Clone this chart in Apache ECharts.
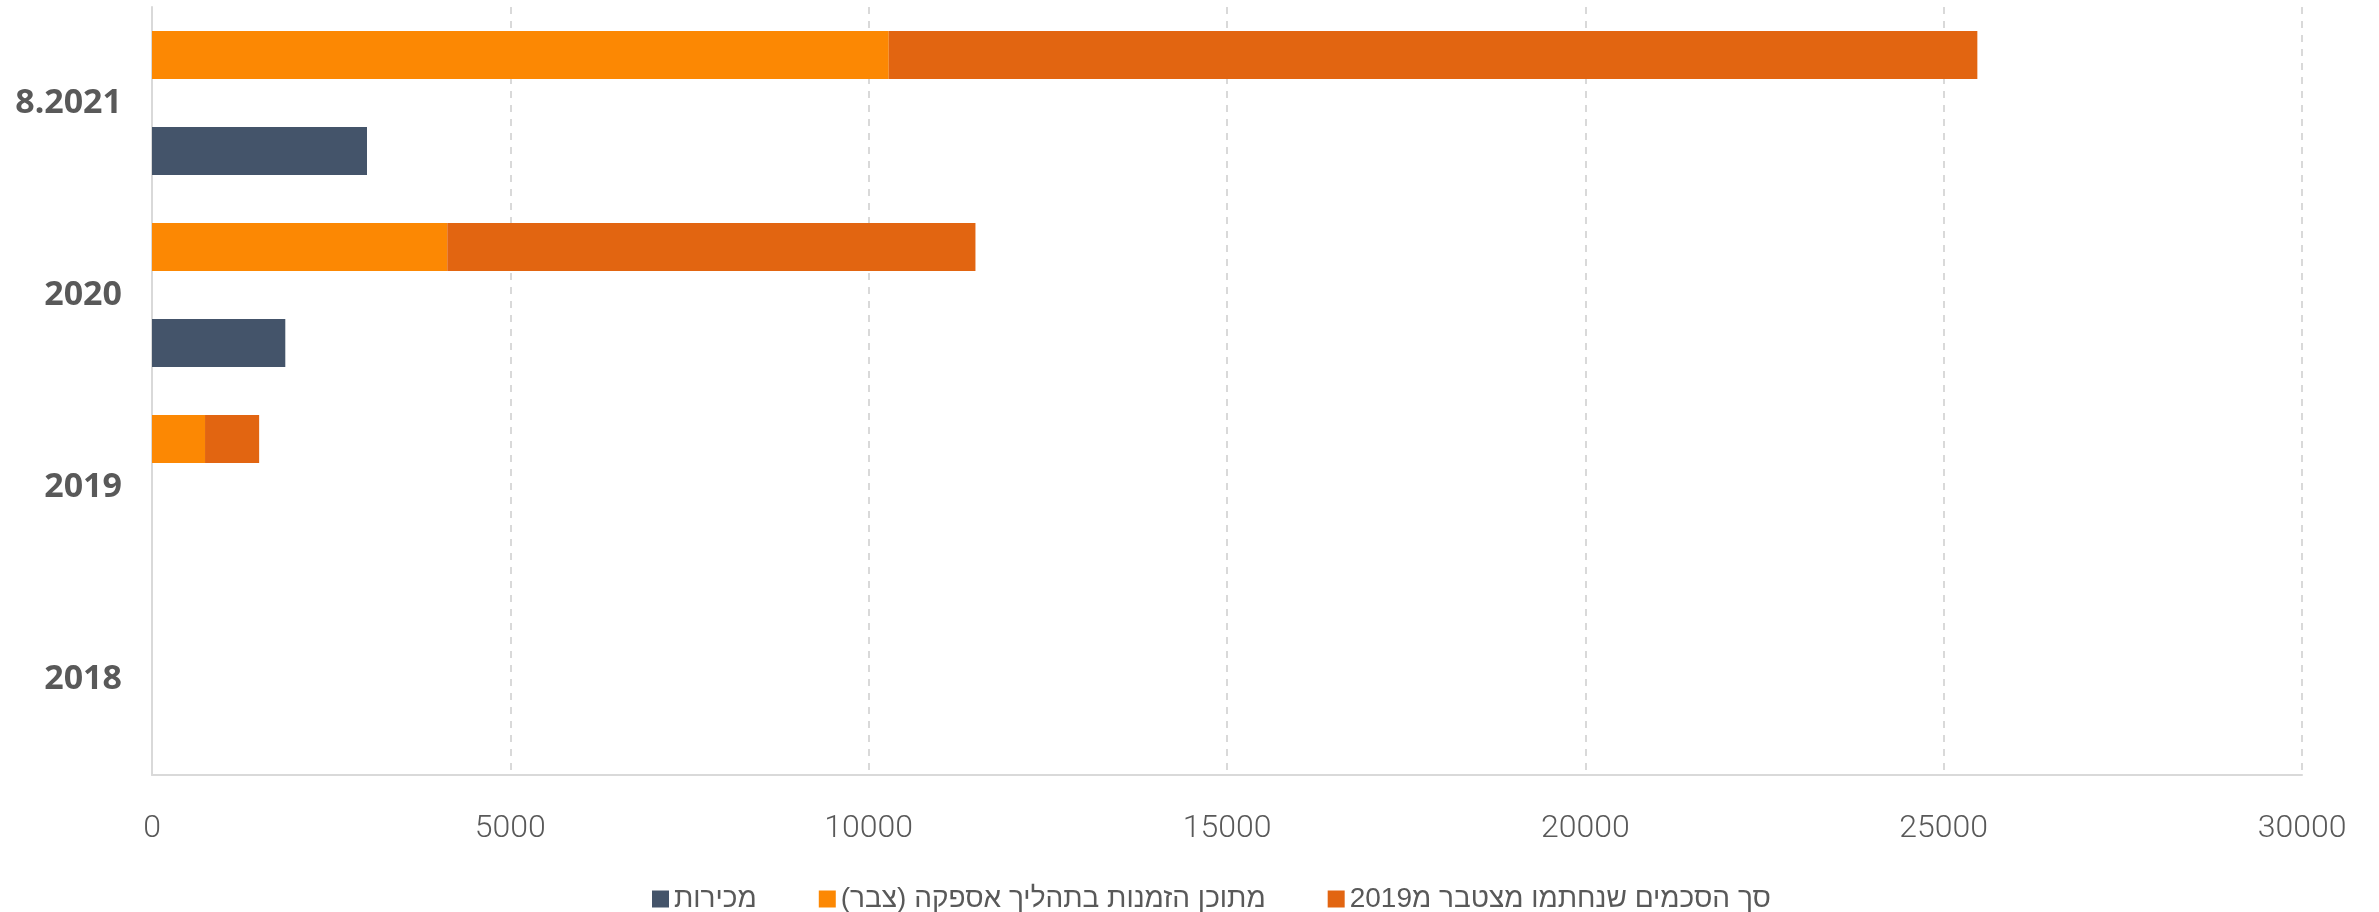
<!DOCTYPE html>
<html>
<head>
<meta charset="utf-8">
<script src="https://cdn.jsdelivr.net/npm/echarts@6/dist/echarts.min.js"></script>
<style>
  html, body { margin: 0; padding: 0; background: #fff; }
  #chart { width: 2379px; height: 912px; }
</style>
</head>
<body>
<div id="chart"></div>
<script>
// קטגוריות (מלמטה למעלה)
var categories = ['2018', '2019', '2020', '8.2021'];
// מכירות
var sales = [null, null, 1860, 3000];
// מתוכן הזמנות בתהליך אספקה (צבר)
var backlog = [null, 740, 4120, 10280];
// סך הסכמים שנחתמו מצטבר מ2019
var agreementsTotal = [null, 1495, 11490, 25470];
var xTicks = [0, 5000, 10000, 15000, 20000, 25000, 30000];

var names = ['מכירות', 'מתוכן הזמנות בתהליך אספקה (צבר)\u200F', 'סך הסכמים שנחתמו מצטבר מ2019'];
var colors = ['#44546A', '#FC8803', '#E26511'];
var textColor = '#595959';

// החלק הכהה = סך ההסכמים פחות הצבר (הגרף המקורי מציג אותם בחפיפה)
var remainder = agreementsTotal.map(function (v, i) {
	return v == null ? null : v - (backlog[i] || 0);
});

var chart = echarts.init(document.getElementById('chart'));
var option = {
	animation: false,
	backgroundColor: '#fff',
	grid: { left: 152, right: 77, top: 7, bottom: 137 },
	legend: {
		data: names,
		left: 647,
		top: 880,
		itemWidth: 17,
		itemHeight: 17,
		itemGap: 62,
		icon: 'rect',
		textStyle: { color: textColor, fontSize: 28, fontFamily: 'Liberation Sans' }
	},
	xAxis: {
		type: 'value',
		min: xTicks[0],
		max: xTicks[xTicks.length - 1],
		interval: 5000,
		axisLine: { show: true, lineStyle: { color: '#D9D9D9', width: 2 } },
		axisTick: { show: false },
		axisLabel: {
			color: textColor, fontSize: 32, fontFamily: 'Roboto', fontWeight: 300, margin: 38,
			formatter: function (v) { return String(v); }
		},
		splitLine: { show: true, lineStyle: { color: '#D9D9D9', width: 2, type: [7, 7] } }
	},
	yAxis: {
		type: 'category',
		data: categories,
		axisLine: { show: true, lineStyle: { color: '#D9D9D9', width: 2 } },
		axisTick: { show: false },
		axisLabel: { color: textColor, fontSize: 34, fontWeight: 'bold', fontFamily: 'Noto Sans', margin: 30 },
		splitLine: { show: false }
	},
	series: [
		{
			name: names[1],
			type: 'bar',
			stack: 'agreements',
			data: backlog,
			itemStyle: { color: colors[1] },
			barGap: '100%',
			barCategoryGap: '25%'
		},
		{
			name: names[2],
			type: 'bar',
			stack: 'agreements',
			data: remainder,
			itemStyle: { color: colors[2] }
		},
		{
			name: names[0],
			type: 'bar',
			data: sales,
			itemStyle: { color: colors[0] },
			barGap: '100%',
			barCategoryGap: '25%'
		}
	]
};
chart.setOption(option);
</script>
</body>
</html>
